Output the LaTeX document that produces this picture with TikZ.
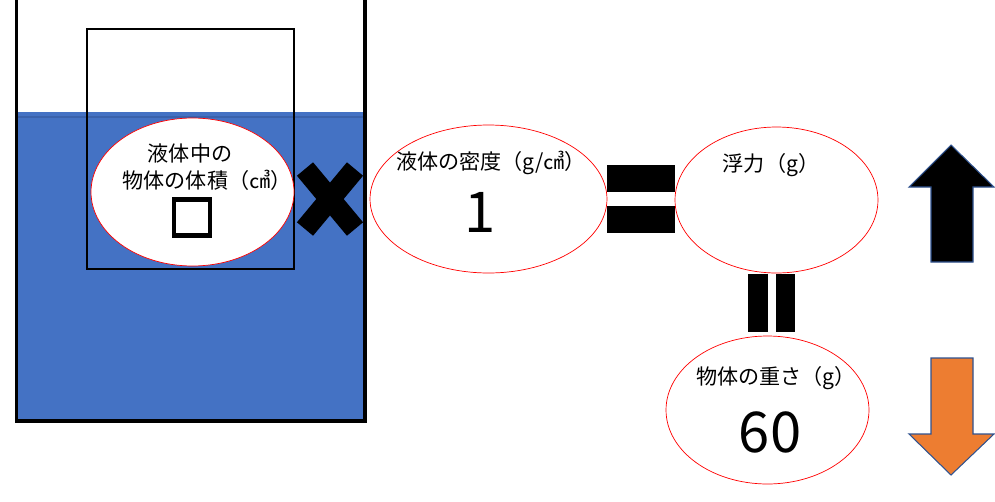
\documentclass[tikz,border=0pt]{standalone}
\usepackage{fontspec}
\usepackage{tikz}
\usetikzlibrary{positioning,shapes.geometric,calc}
\setmainfont{Noto Sans CJK JP}
\definecolor{water}{HTML}{4472C4}
\definecolor{surface}{HTML}{3A62AC}
\definecolor{rim}{HTML}{FF0000}
\definecolor{edge}{HTML}{2F528F}
\definecolor{heavy}{HTML}{ED7D31}
\tikzset{
  oval/.style={ellipse, draw=rim, fill=white, inner sep=0pt,
               minimum width=4.06cm, minimum height=2.96cm},
  lbl/.style={font=\fontsize{12}{14}\selectfont, inner sep=0pt},
  num/.style={font=\fontsize{32}{36}\selectfont, inner sep=0pt},
  eqbar/.style={fill=black, draw=none},
  wall/.style={draw=black, line width=1.8pt},
  mult/.style={draw=black, line width=0.42cm},
  force/.style={draw=edge, line width=0.6pt},
}
\begin{document}
\begin{tikzpicture}[x=0.02cm, y=-0.02cm]
        \useasboundingbox (0,0) rectangle (995,501);
        % beaker with liquid
        \fill[water] (17,112) rectangle (365,421);
        \draw[surface, line width=1pt] (17,117) -- (365,117);
        \draw[line width=0.6pt] (87,29) rectangle (294,269);
        \draw[wall] (16.5,0) -- (16.5,421) -- (365,421) -- (365,0);
        % volume
        \node[oval] (vol) at (192.5,192) {};
        \node[lbl] (voltop) at (190,153) {液体中の};
        \node[lbl] (volbot) at (207,180) {物体の体積（㎤）};
        \node[draw, line width=2.3pt, minimum size=0.72cm, inner sep=0pt] (sq) at (192,217.5) {};
        % times
        \coordinate (xc) at (330,199);
        \draw[mult] ($(xc)+(-25,-30)$) -- ($(xc)+(25,30)$);
        \draw[mult] ($(xc)+(25,-30)$) -- ($(xc)+(-25,30)$);
        % density
        \node[oval, minimum width=4.74cm] (dens) at (488.5,199) {};
        \node[lbl] (denstop) at (491,163) {液体の密度（g/㎤）};
        \node[num] (one) at (480,212) {1};
        % equals
        \fill[eqbar] (607,165) rectangle (675,192);
        \fill[eqbar] (607,206) rectangle (675,233);
        % buoyancy
        \node[oval, minimum height=2.92cm] (buoy) at (776.5,200) {};
        \node[lbl] (buoytop) at (771,165) {浮力（g）};
        \fill[eqbar] (748,274) rectangle (768,332);
        \fill[eqbar] (776,274) rectangle (795,332);
        % weight
        \node[oval] (wt) at (767.5,410) {};
        \node[lbl] (wttop) at (776,378) {物体の重さ（g）};
        \node[num] (sixty) at (770,432) {60};
        % arrows
        \filldraw[force, fill=black] (931,262) -- (931,187) -- (909,187) -- (951,145)
          -- (994,187) -- (973,187) -- (973,262) -- cycle;
        \filldraw[force, fill=heavy] (931,358) -- (931,434) -- (909,434) -- (951,475)
          -- (994,434) -- (973,434) -- (973,358) -- cycle;
      \end{tikzpicture}
\end{document}
